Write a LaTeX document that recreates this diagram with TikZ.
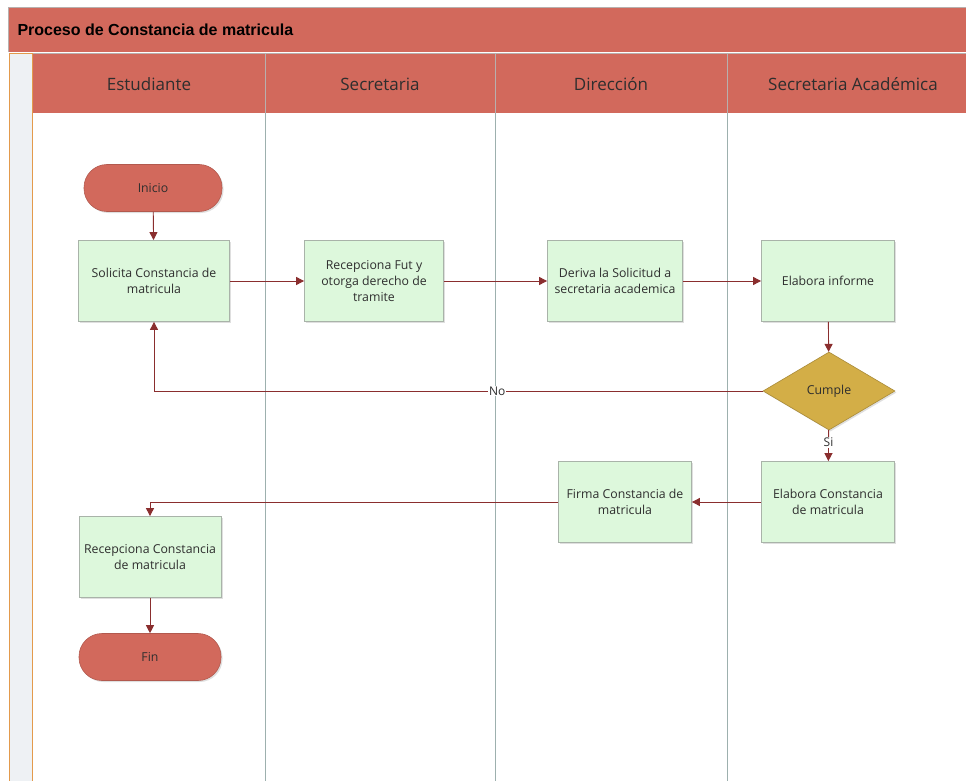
\documentclass[tikz,border=0pt]{standalone}
\usepackage{fontspec}
\setmainfont{Open Sans}
\newfontfamily\titlefont{Liberation Sans}
\usetikzlibrary{shapes.geometric,arrows.meta,shadows,patterns}
\definecolor{hdr}{HTML}{D2695C}
\definecolor{hdrline}{HTML}{B8B0AE}
\definecolor{procfill}{HTML}{DDF8DC}
\definecolor{procline}{HTML}{A9B3A9}
\definecolor{decfill}{HTML}{D3AE47}
\definecolor{conn}{HTML}{8A2E2E}
\definecolor{lane}{HTML}{9DB0AE}
\definecolor{txt}{HTML}{2E2E2E}
\definecolor{stripfill}{HTML}{EEF1F4}
\definecolor{stripline}{HTML}{E39A4C}
\tikzset{
  x=1pt,y=-1pt,
  every node/.style={font=\fontsize{12.3}{16}\selectfont, text=txt},
  proc/.style={draw=procline, fill=procfill, line width=0.8pt, align=center,
    minimum width=#1, minimum height=81pt, inner sep=2pt,
    drop shadow={shadow xshift=1.5pt, shadow yshift=-1.5pt, opacity=0.25}},
  term/.style={draw=hdr!85!black, fill=hdr, line width=0.6pt, rounded corners=23pt,
    minimum width=138pt, minimum height=47pt,
    drop shadow={shadow xshift=1.5pt, shadow yshift=-1.5pt, opacity=0.25}},
  dec/.style={diamond, draw=decfill!80!black, fill=decfill, line width=0.6pt,
    minimum width=132pt, minimum height=78pt, aspect=1.7, inner sep=0pt,
    drop shadow={shadow xshift=1.5pt, shadow yshift=-1.5pt, opacity=0.25}},
  arr/.style={draw=conn, line width=0.9pt, -{Triangle[length=8pt,width=8pt]}},
  lanehdr/.style={font=\fontsize{17}{20}\selectfont, text=txt},
  lbl/.style={fill=white, inner sep=1pt, font=\fontsize{12}{14}\selectfont},
}
\begin{document}
\begin{tikzpicture}
\useasboundingbox (0,0) rectangle (966,781);
\fill[white] (0,0) rectangle (966,781);
% title bar
\fill[hdr] (8,7) rectangle (966,52);
\draw[hdrline, line width=0.6pt] (8,52) -- (8,7) -- (966,7);
\node[anchor=west, font=\titlefont\bfseries\fontsize{16}{19}\selectfont, text=black] (title) at (14,30) {Proceso de Constancia de matricula};
% left strip
\fill[stripfill] (9,54) rectangle (32,781);
\draw[stripline, line width=1pt] (9,781) -- (9,54) -- (32,54) -- (32,781);
% lane header
\fill[hdr] (33,53) rectangle (966,113);
\draw[hdrline, line width=0.8pt] (33,53) -- (966,53);
\foreach \x in {265,495,727} \draw[hdrline, line width=0.8pt] (\x,53) -- (\x,113);
\foreach \x in {265,495,727} \draw[lane, line width=0.7pt] (\x,113) -- (\x,781);
\node[lanehdr] (l1) at (149,84) {Estudiante};
\node[lanehdr] (l2) at (380,84) {Secretaria};
\node[lanehdr] (l3) at (611,84) {Dirección};
\node[lanehdr] (l4) at (853,84) {Secretaria Académica};
% nodes
\node[term] (inicio) at (153,188) {Inicio};
\node[proc=151pt] (solicita) at (154,281) {Solicita Constancia de\\matricula};
\node[proc=139pt] (recfut) at (374,281) {Recepciona Fut y\\otorga derecho de\\tramite};
\node[proc=135pt] (deriva) at (615,281) {Deriva la Solicitud a\\secretaria academica};
\node[proc=133pt] (informe) at (828,281) {Elabora informe};
\node[dec] (cumple) at (829,391) {Cumple};
\node[proc=133pt] (elabcons) at (828,502) {Elabora Constancia\\de matricula};
\node[proc=133pt] (firma) at (625,502) {Firma Constancia de\\matricula};
\node[proc=142pt] (reccons) at (150,557) {Recepciona Constancia\\de matricula};
\node[term, minimum width=142pt] (fin) at (150,657) {Fin};
% connectors
\draw[arr] (inicio) -- (solicita);
\draw[arr] (solicita) -- (recfut);
\draw[arr] (recfut) -- (deriva);
\draw[arr] (deriva) -- (informe);
\draw[arr] (informe) -- (cumple);
\draw[arr] (cumple.west) -| node[lbl, pos=0.218] {No} (solicita.south);
\draw[arr] (cumple) -- node[lbl, pos=0.4] {Si} (elabcons);
\draw[arr] (elabcons) -- (firma);
\draw[arr] (firma.west) -| (reccons.north);
\draw[arr] (reccons) -- (fin);
\end{tikzpicture}
\end{document}
